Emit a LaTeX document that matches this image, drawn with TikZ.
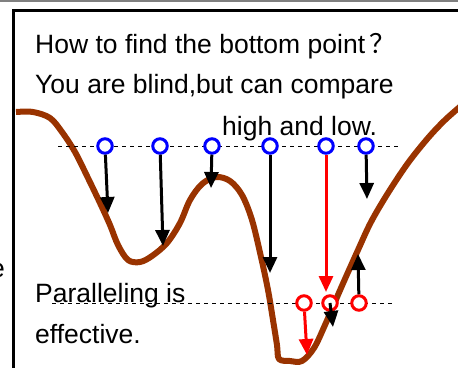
\documentclass[tikz,border=0pt]{standalone}
\usepackage{fontspec}
\setmainfont{Liberation Sans}
\newfontfamily\cjkfont{Noto Sans CJK SC}
\usepackage{xcolor}
\usetikzlibrary{arrows.meta}

\definecolor{slope}{RGB}{153,51,0}

\begin{document}
\begin{tikzpicture}[
  x=1pt, y=-1pt,
  txt/.style={anchor=base west, inner sep=0pt, font=\fontsize{26.5}{30}\selectfont},
  probe/.style={draw=blue, circle, line width=3pt, fill=white, minimum size=14.5pt, inner sep=0pt},
  hit/.style={probe, draw=red},
  guide/.style={dash pattern=on 4pt off 4pt, line width=1pt},
  arrow/.style={-{Triangle[length=16pt, width=14pt]}, line width=3pt},
  redarrow/.style={arrow, red}
]
\useasboundingbox (0,0) rectangle (458,367);
\clip (0,0) rectangle (458,367);

% frame
\draw[gray, line width=2pt] (0,1) -- (458,1);
\draw[line width=3pt] (13.5,370) -- (13.5,10.5) -- (460,10.5);
\node[txt, anchor=base east] (cut) at (5,277) {e};

% the landscape
\draw[slope, line width=6pt, line join=round] plot[smooth, tension=0.55] coordinates {
  (16,112) (33,112) (50,118) (62,132) (75,152) (88,178) (100,203) (110,225)
  (118,245) (128,260) (140,262) (152,256) (167,243) (180,223) (190,200)
  (202,184) (216,177) (230,181) (242,195) (252,220) (261,257) (268,290)
  (273,320) (277,345) (279,359) (290,361) (302,361) (314,348) (325,325)
  (341,288) (358,250) (371,222) (388,193) (408,163) (428,138) (445,120) (462,105)};

% guide lines
\draw[guide] (58,146) -- (400,146);
\draw[guide] (52,303) -- (395,303);

% texts
\node[txt] (q1) at (35,53) {How to find the bottom point\hspace{4pt}{\cjkfont ？}};
\node[txt] (q2) at (35,93) {You are blind,but can compare};
\node[txt] (q3) at (222,135) {high and low.};
\node[txt] (a1) at (35,302) {Paralleling is};
\node[txt] (a2) at (35,343) {effective.};

% first round of probes
\node[probe] (t1) at (105,146) {};
\node[probe] (t2) at (160,146) {};
\node[probe] (t3) at (212,146) {};
\node[probe] (t4) at (270,146) {};
\node[probe] (t5) at (326,146) {};
\node[probe] (t6) at (366,146) {};

% second round of probes
\node[hit] (b1) at (304,303) {};
\node[hit] (b2) at (330,303) {};
\node[hit] (b3) at (359,303) {};

\coordinate (t1end) at (108,213);
\coordinate (t2end) at (163,246);
\coordinate (t3end) at (211,188);
\coordinate (t4end) at (270,273);
\coordinate (t5end) at (326,292);
\coordinate (t6end) at (367,199);
\coordinate (b1end) at (307,355);
\coordinate (b2end) at (333,327);
\coordinate (b3end) at (358,254);

\draw[arrow] (t1) -- (t1end);
\draw[arrow] (t2) -- (t2end);
\draw[arrow] (t3) -- (t3end);
\draw[arrow] (t4) -- (t4end);
\draw[redarrow] (t5) -- (t5end);
\draw[arrow] (t6) -- (t6end);
\draw[redarrow] (b1) -- (b1end);
\draw[arrow] (b2.center) -- (b2end);
\draw[arrow] (b3) -- (b3end);
\end{tikzpicture}
\end{document}
